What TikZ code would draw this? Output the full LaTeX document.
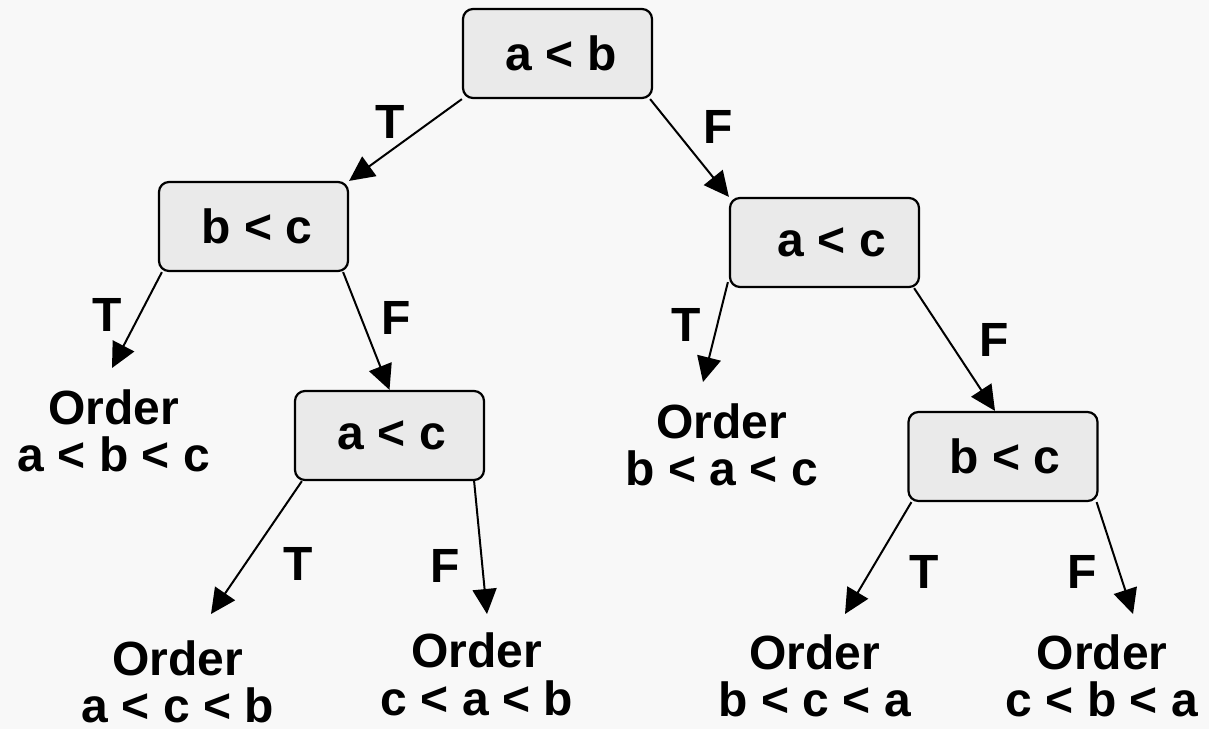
\documentclass[tikz,border=0pt]{standalone}
\usepackage{fontspec}
\setmainfont{Liberation Sans}
\usetikzlibrary{arrows.meta}
\definecolor{bg}{HTML}{F8F8F8}
\definecolor{boxfill}{HTML}{EAEAEA}
\begin{document}
\begin{tikzpicture}[x=1pt,y=-1pt,
  every node/.style={font=\fontsize{48}{47.5}\selectfont\bfseries, text=black},
  testbox/.style={draw=black, line width=2.2pt, fill=boxfill, rounded corners=10pt,
    minimum width=189pt, minimum height=89pt, inner sep=0pt},
  leaf/.style={align=center, inner sep=0pt},
  lab/.style={inner sep=0pt},
  edge/.style={-{Triangle[length=25pt,width=24pt]}, line width=2pt}]
\fill[bg] (0,0) rectangle (1209,729);
\useasboundingbox (0,0) rectangle (1209,729);

% decision boxes
\node[testbox] (root) at (557.5,53.5) {\hspace*{7pt}a < b};
\node[testbox] (bc1)  at (253.5,226.5) {\hspace*{7pt}b < c};
\node[testbox] (ac1)  at (824.5,242.5) {\hspace*{15pt}a < c};
\node[testbox] (ac2)  at (389.5,435.5) {\hspace*{5pt}a < c};
\node[testbox] (bc2)  at (1003,456.5) {\hspace*{4pt}b < c};

% leaves
\node[leaf] (l1) at (114,431)   {Order\\a < b < c};
\node[leaf] (l2) at (722,445)   {Order\\b < a < c};
\node[leaf] (l3) at (178,682)   {Order\\a < c < b};
\node[leaf] (l4) at (477,674.5) {Order\\c < a < b};
\node[leaf] (l5) at (815,676)   {Order\\b < c < a};
\node[leaf] (l6) at (1102,676)  {Order\\c < b < a};

% free arrow ends above the leaves
\coordinate (e1) at (112,368);
\coordinate (e2) at (703,382);
\coordinate (e3) at (211,614);
\coordinate (e4) at (487,614);
\coordinate (e5) at (845,614);
\coordinate (e6) at (1133,614);

% connectors
\draw[edge] (root.south west) -- (bc1.north east);
\draw[edge] ([xshift=-3pt]root.south east) -- (ac1.north west);
\draw[edge] ([xshift=4pt]bc1.south west) -- (e1);
\draw[edge] ([xshift=-6pt]bc1.south east) -- (ac2.north);
\draw[edge] ([xshift=-1pt,yshift=6pt]ac1.south west) -- (e2);
\draw[edge] ([xshift=-6pt]ac1.south east) -- ([xshift=-8pt]bc2.north);
\draw[edge] ([xshift=8pt]ac2.south west) -- (e3);
\draw[edge] ([xshift=-11pt]ac2.south east) -- (e4);
\draw[edge] ([xshift=4pt]bc2.south west) -- (e5);
\draw[edge] ([xshift=-2pt]bc2.south east) -- (e6);

% branch labels
\node[lab] (t1) at (390,122) {T};
\node[lab] (f1) at (718,127) {F};
\node[lab] (t2) at (107,315) {T};
\node[lab] (f2) at (396,318) {F};
\node[lab] (t3) at (686,325) {T};
\node[lab] (f3) at (994,340) {F};
\node[lab] (t4) at (298,564) {T};
\node[lab] (f4) at (445,566) {F};
\node[lab] (t5) at (924,572) {T};
\node[lab] (f5) at (1082,572) {F};
\end{tikzpicture}
\end{document}
